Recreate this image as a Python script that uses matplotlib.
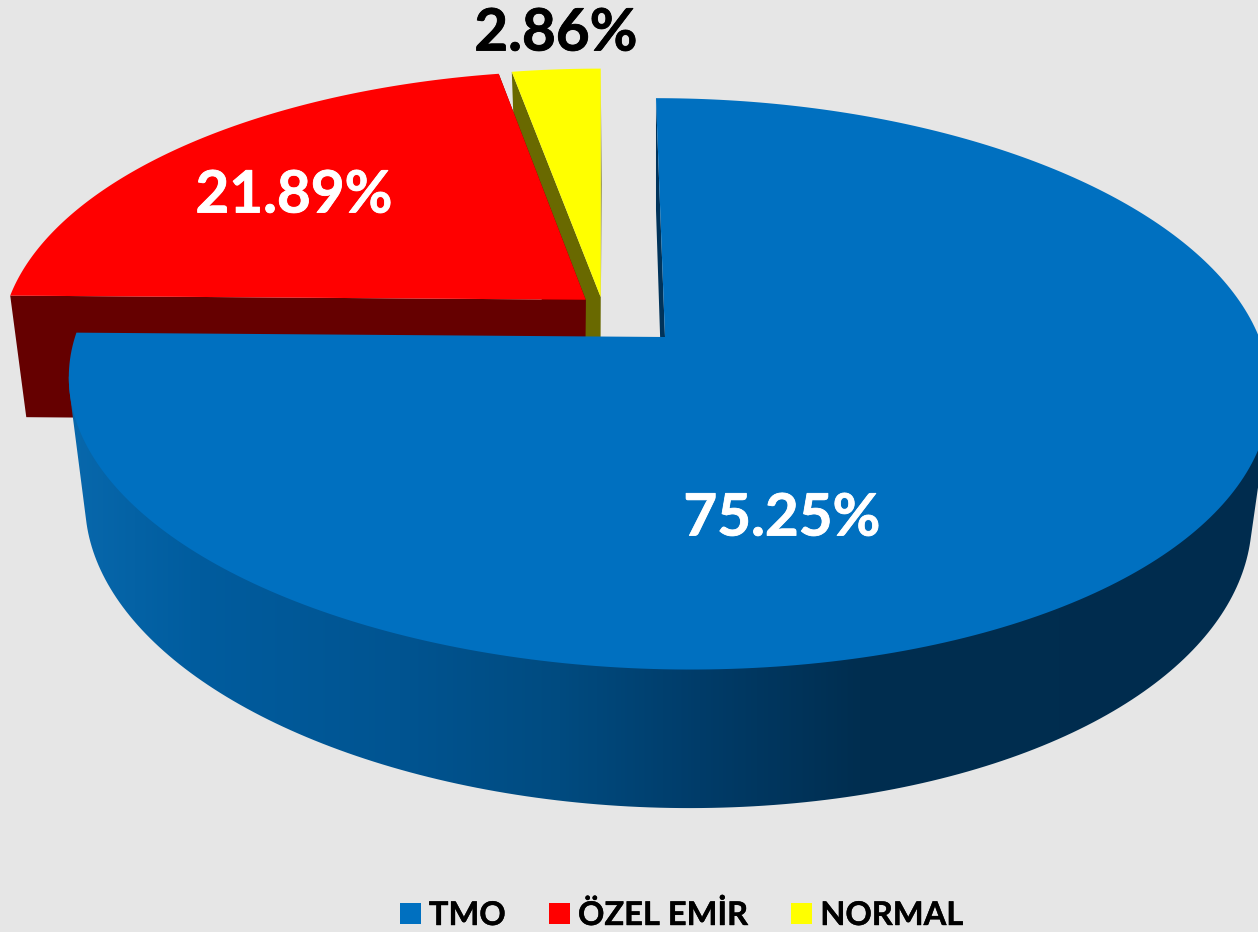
import numpy as np
from matplotlib import pyplot as plt
from matplotlib import patheffects as pe
from matplotlib.patches import Patch, Polygon

plt.rcParams['font.family'] = ['Lato', 'DejaVu Sans']

categories = ['TMO', 'ÖZEL EMİR', 'NORMAL']
shares = [75.25, 21.89, 2.86]
share_labels = ['75.25%', '21.89%', '2.86%']

top_colors = ['#0070C0', '#FF0000', '#FFFF00']
side_colors = ['#00335A', '#650000', '#696900']
label_colors = ['white', 'white', 'black']
label_pos = [(782, 519), (294, 196), (556, 34)]
# pulled out slices, in disk units, top and bottom face
explode_top = [(0.0, 0.0), (-0.135, 0.137), (-0.109, 0.147)]
explode_bottom = [(0.0, 0.0), (-0.14, 0.125), (-0.112, 0.125)]

# the two faces of the pie as perspective planes: apex x, apex y, B, A, k, shear, low shear, side
top_plane = (665, 337, 590, 278, 0.164, -10.5, -10.5, 8)
bottom_plane = (664, 457, 572, 290, 0.174, -9.4, -11.5, 8)

wall_x = [70, 200, 400, 560, 700, 860, 1258]
wall_rgb = np.array([[8, 104, 172], [0, 92, 158], [0, 84, 145], [0, 75, 128],
                     [0, 60, 105], [0, 46, 80], [0, 44, 78]]) / 255


def project(plane, u, v):
    x0, y0, b, a, k, shear, low, side = plane
    w = 1 + k * v
    x = b * u + shear * v + low * np.minimum(v, 0) * np.abs(v)
    x = x + side * np.maximum(u, 0) * (1 - v) / 2
    return x0 + x / w, y0 - a * v / w


def rim(plane, t0, t1, off, n=200):
    t = np.radians(np.linspace(t0, t1, n))
    return np.column_stack(project(plane, np.sin(t) + off[0], np.cos(t) + off[1]))


def apex(plane, off):
    return np.array(project(plane, off[0], off[1]))


def hull(points):
    pts = sorted(map(tuple, points))
    def half(seq):
        out = []
        for p in seq:
            while len(out) > 1 and ((out[-1][0] - out[-2][0]) * (p[1] - out[-2][1])
                                    - (out[-1][1] - out[-2][1]) * (p[0] - out[-2][0])) <= 0:
                out.pop()
            out.append(p)
        return out[:-1]
    return np.array(half(pts) + half(pts[::-1]))


fig = plt.figure(figsize=(12.58, 9.32), dpi=100, facecolor='#E6E6E6')
ax = fig.add_axes([0, 0, 1, 1])

stops = np.concatenate([[0], np.cumsum(shares) * 3.6])
stops[-1] = 360

# pulled out slices, yellow behind red
for i, z in [(2, 1), (1, 3)]:
    t0, t1 = stops[i], stops[i + 1]
    off_t, off_b = explode_top[i], explode_bottom[i]
    for t in [t0, t1]:
        wall = [apex(top_plane, off_t), rim(top_plane, t, t, off_t, 1)[0],
                rim(bottom_plane, t, t, off_b, 1)[0], apex(bottom_plane, off_b)]
        ax.add_patch(Polygon(wall, fc=side_colors[i], ec='none', zorder=z))
    face = np.vstack([apex(top_plane, off_t), rim(top_plane, t0, t1, off_t)])
    ax.add_patch(Polygon(face, fc=top_colors[i], ec='none', zorder=z + 1))

# blue slice, the round wall is a gradient clipped to the outline of the front rims
blue_end = stops[1]
top_rim = rim(top_plane, 0, blue_end, (0, 0), 300)
bot_rim = rim(bottom_plane, 0, blue_end, (0, 0), 300)
front = np.vstack([rim(top_plane, 100, 262, (0, 0), 200), rim(bottom_plane, 100, blue_end, (0, 0), 200)])
wall_path = Polygon(hull(front), fc='none', ec='none')
ax.add_patch(wall_path)

xs = np.arange(0, 1259)
grad = np.column_stack([np.interp(xs, wall_x, wall_rgb[:, c]) for c in range(3)])[np.newaxis, :, :]
img = ax.imshow(grad, extent=[0, 1258, 932, 0], aspect='auto', zorder=5, interpolation='bilinear')
img.set_clip_path(wall_path)

start_wall = [apex(top_plane, (0, 0)), top_rim[0], bot_rim[0], apex(bottom_plane, (0, 0))]
ax.add_patch(Polygon(start_wall, fc=side_colors[0], ec='none', zorder=6))
face = np.vstack([apex(top_plane, (0, 0)), top_rim])
ax.add_patch(Polygon(face, fc=top_colors[0], ec='none', zorder=7))

ax.set_xlim(0, 1258)
ax.set_ylim(932, 0)
ax.axis('off')

for s, pos, col in zip(share_labels, label_pos, label_colors):
    ax.text(pos[0], pos[1], s, color=col, fontsize=42, fontweight='bold', ha='center', va='center',
            zorder=10, path_effects=[pe.withStroke(linewidth=0.6, foreground=col)])

handles = [Patch(fc=c, ec='none', label=n) for c, n in zip(top_colors, categories)]
leg = ax.legend(handles=handles, loc='center', bbox_to_anchor=(681.5 / 1258, 1 - 915 / 932), ncol=3,
                frameon=False, prop={'size': 23.5, 'weight': 'bold'}, handlelength=0.644,
                handleheight=0.644, handletextpad=0.25, columnspacing=1.32, borderpad=0)
for t in leg.get_texts():
    t.set_path_effects([pe.withStroke(linewidth=0.3, foreground='black')])

fig.savefig('out.png', dpi=100, facecolor=fig.get_facecolor())
